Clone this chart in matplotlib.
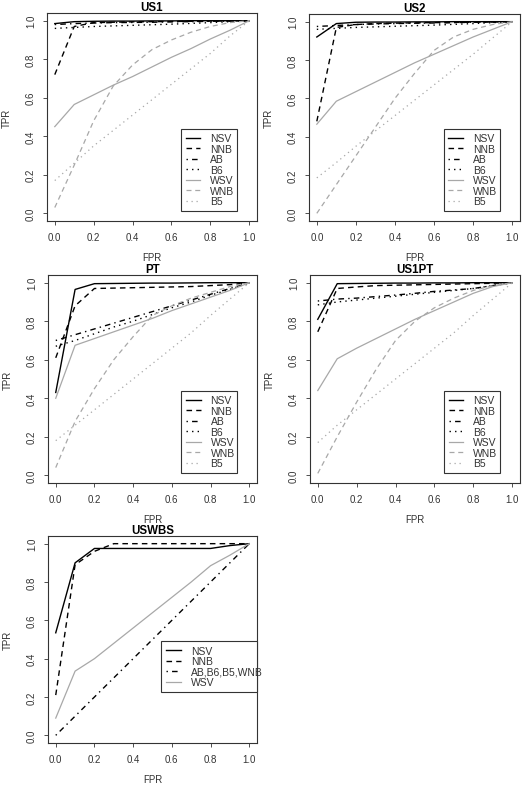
import matplotlib
matplotlib.use("Agg")
import matplotlib.pyplot as plt

plt.rcParams['font.family'] = ['Liberation Sans', 'DejaVu Sans']

fpr = [0.0, 0.1, 0.2, 0.3, 0.4, 0.5, 0.6, 0.7, 0.8, 0.9, 1.0]

# US1
us1_nsv = [0.985, 0.995, 0.997, 0.998, 0.998, 0.999, 0.999, 1.0, 1.0, 1.0, 1.0]
us1_nnb = [0.72, 0.97, 0.99, 0.992, 0.994, 0.995, 0.996, 0.997, 0.998, 0.999, 1.0]
us1_ab = [0.98, 0.985, 0.988, 0.99, 0.991, 0.992, 0.994, 0.995, 0.997, 0.998, 1.0]
us1_b6 = [0.96, 0.965, 0.97, 0.973, 0.976, 0.979, 0.982, 0.986, 0.99, 0.995, 1.0]
us1_wsv = [0.45, 0.565, 0.615, 0.665, 0.71, 0.76, 0.81, 0.855, 0.905, 0.95, 1.0]
us1_wnb = [0.03, 0.25, 0.48, 0.66, 0.77, 0.85, 0.9, 0.94, 0.97, 0.99, 1.0]
us1_b5 = [0.17, 0.26, 0.35, 0.43, 0.51, 0.59, 0.67, 0.75, 0.83, 0.92, 1.0]

# US2
us2_nsv = [0.92, 0.99, 0.997, 0.998, 0.998, 0.999, 0.999, 1.0, 1.0, 1.0, 1.0]
us2_nnb = [0.48, 0.97, 0.985, 0.99, 0.992, 0.994, 0.995, 0.996, 0.997, 0.998, 1.0]
us2_ab = [0.975, 0.98, 0.985, 0.988, 0.99, 0.992, 0.993, 0.995, 0.997, 0.998, 1.0]
us2_b6 = [0.96, 0.965, 0.97, 0.973, 0.976, 0.979, 0.982, 0.986, 0.99, 0.995, 1.0]
us2_wsv = [0.465, 0.585, 0.635, 0.685, 0.735, 0.785, 0.83, 0.875, 0.92, 0.96, 1.0]
us2_wnb = [0.0, 0.15, 0.30, 0.45, 0.60, 0.73, 0.85, 0.92, 0.96, 0.985, 1.0]
us2_b5 = [0.185, 0.265, 0.35, 0.43, 0.51, 0.59, 0.67, 0.75, 0.83, 0.915, 1.0]

# PT
pt_nsv = [0.43, 0.965, 0.995, 0.996, 0.997, 0.998, 0.998, 0.999, 1.0, 1.0, 1.0]
pt_nnb = [0.61, 0.88, 0.97, 0.972, 0.974, 0.976, 0.978, 0.98, 0.985, 0.99, 1.0]
pt_ab = [0.70, 0.73, 0.76, 0.79, 0.82, 0.85, 0.88, 0.91, 0.94, 0.97, 1.0]
pt_b6 = [0.67, 0.70, 0.735, 0.77, 0.80, 0.835, 0.87, 0.90, 0.935, 0.965, 1.0]
pt_wsv = [0.40, 0.675, 0.71, 0.745, 0.78, 0.815, 0.855, 0.89, 0.925, 0.96, 1.0]
pt_wnb = [0.04, 0.28, 0.45, 0.60, 0.72, 0.83, 0.88, 0.92, 0.95, 0.98, 1.0]
pt_b5 = [0.18, 0.26, 0.34, 0.42, 0.50, 0.58, 0.66, 0.74, 0.83, 0.915, 1.0]

# US1PT
us1pt_nsv = [0.81, 0.995, 0.996, 0.997, 0.998, 0.998, 0.999, 0.999, 1.0, 1.0, 1.0]
us1pt_nnb = [0.745, 0.97, 0.978, 0.985, 0.987, 0.989, 0.991, 0.993, 0.995, 0.997, 1.0]
us1pt_ab = [0.905, 0.915, 0.92, 0.928, 0.936, 0.945, 0.955, 0.962, 0.97, 0.985, 1.0]
us1pt_b6 = [0.885, 0.90, 0.91, 0.92, 0.93, 0.94, 0.95, 0.96, 0.97, 0.985, 1.0]
us1pt_wsv = [0.44, 0.605, 0.66, 0.71, 0.76, 0.81, 0.855, 0.9, 0.945, 0.98, 1.0]
us1pt_wnb = [0.01, 0.20, 0.38, 0.55, 0.70, 0.80, 0.87, 0.92, 0.96, 0.985, 1.0]
us1pt_b5 = [0.17, 0.26, 0.34, 0.42, 0.50, 0.58, 0.66, 0.74, 0.83, 0.915, 1.0]

# USWBS
uswbs_nsv = [0.535, 0.90, 0.975, 0.975, 0.975, 0.975, 0.975, 0.975, 0.975, 0.99, 1.0]
uswbs_nnb = [0.21, 0.89, 0.96, 1.0, 1.0, 1.0, 1.0, 1.0, 1.0, 1.0, 1.0]
uswbs_rest = [0.0, 0.1, 0.2, 0.3, 0.4, 0.5, 0.6, 0.7, 0.8, 0.9, 1.0]
uswbs_wsv = [0.09, 0.335, 0.40, 0.48, 0.56, 0.64, 0.72, 0.80, 0.885, 0.94, 1.0]

titles = ["US1", "US2", "PT", "US1PT"]
panel_data = [
    [us1_nsv, us1_nnb, us1_ab, us1_b6, us1_wsv, us1_wnb, us1_b5],
    [us2_nsv, us2_nnb, us2_ab, us2_b6, us2_wsv, us2_wnb, us2_b5],
    [pt_nsv, pt_nnb, pt_ab, pt_b6, pt_wsv, pt_wnb, pt_b5],
    [us1pt_nsv, us1pt_nnb, us1pt_ab, us1pt_b6, us1pt_wsv, us1pt_wnb, us1pt_b5],
]
series_names = ["NSV", "NNB", "AB", "B6", "WSV", "WNB", "B5"]

BLACK = "#000000"
GRAY = "#a8a8a8"
styles = [
    dict(color=BLACK, linestyle="-", lw=1.0),
    dict(color=BLACK, linestyle=(0, (4, 3)), lw=1.0),
    dict(color=BLACK, linestyle=(0, (1, 3, 4, 3)), lw=1.0),
    dict(color=BLACK, linestyle=(0, (1, 3)), lw=1.0),
    dict(color=GRAY, linestyle="-", lw=0.9),
    dict(color=GRAY, linestyle=(0, (4, 3)), lw=0.9),
    dict(color=GRAY, linestyle=(0, (1, 3)), lw=0.9),
]

W, H = 522, 804
fig = plt.figure(figsize=(W / 100, H / 100), dpi=100)

# axes boxes in pixels: left, top, right, bottom
boxes = [
    (47, 14, 257, 222),
    (309, 15, 520, 222),
    (48, 276, 257, 484),
    (310, 276, 520, 484),
    (48, 537, 257, 744),
]

FS = 7.0
LFS = 7.5
TXT = "#333333"


def make_axes(box):
    l, t, r, b = box
    ax = fig.add_axes([l / W, (H - b) / H, (r - l) / W, (b - t) / H])
    ax.set_xlim(-0.04, 1.04)
    ax.set_ylim(-0.04, 1.04)
    ticks = [0.0, 0.2, 0.4, 0.6, 0.8, 1.0]
    ax.set_xticks(ticks)
    ax.set_yticks(ticks)
    ax.set_xticklabels(["%.1f" % v for v in ticks])
    ax.set_yticklabels(["%.1f" % v for v in ticks], rotation=90, va="center")
    ax.tick_params(labelsize=FS, length=3, width=0.6, pad=5, colors=TXT)
    for s in ax.spines.values():
        s.set_linewidth(0.8)
        s.set_color(TXT)
    ax.set_xlabel("FPR", fontsize=FS, labelpad=7, color=TXT)
    ax.set_ylabel("TPR", fontsize=FS, labelpad=10, color=TXT)
    return ax


def style_legend(leg):
    leg.get_frame().set_linewidth(0.8)
    for t in leg.get_texts():
        t.set_color(TXT)


LEG_KW = dict(loc="lower left", mode="expand", fontsize=LFS, frameon=True,
              fancybox=False, edgecolor=TXT, framealpha=1, handlelength=1.4,
              borderpad=0.45, labelspacing=0.05, handletextpad=0.95,
              borderaxespad=0)

for i in range(4):
    ax = make_axes(boxes[i])
    for vals, name, st in zip(panel_data[i], series_names, styles):
        ax.plot(fpr, vals, label=name, **st)
    ax.set_title(titles[i], fontsize=8.3, fontweight="bold", pad=-1.5)
    leg = ax.legend(bbox_to_anchor=(0.638, 0.048, 0.267, 0.404), **LEG_KW)
    style_legend(leg)

ax = make_axes(boxes[4])
ax.plot(fpr, uswbs_nsv, label="NSV", **styles[0])
ax.plot(fpr, uswbs_nnb, label="NNB", **styles[1])
ax.plot(fpr, uswbs_rest, label="AB,B6,B5,WNB", **styles[2])
ax.plot(fpr, uswbs_wsv, label="WSV", **styles[4])
ax.set_title("USWBS", fontsize=8.3, fontweight="bold", pad=-1.5)
leg = ax.legend(bbox_to_anchor=(0.543, 0.246, 0.457, 0.252), **LEG_KW)
style_legend(leg)

fig.savefig("out.png", dpi=100)
